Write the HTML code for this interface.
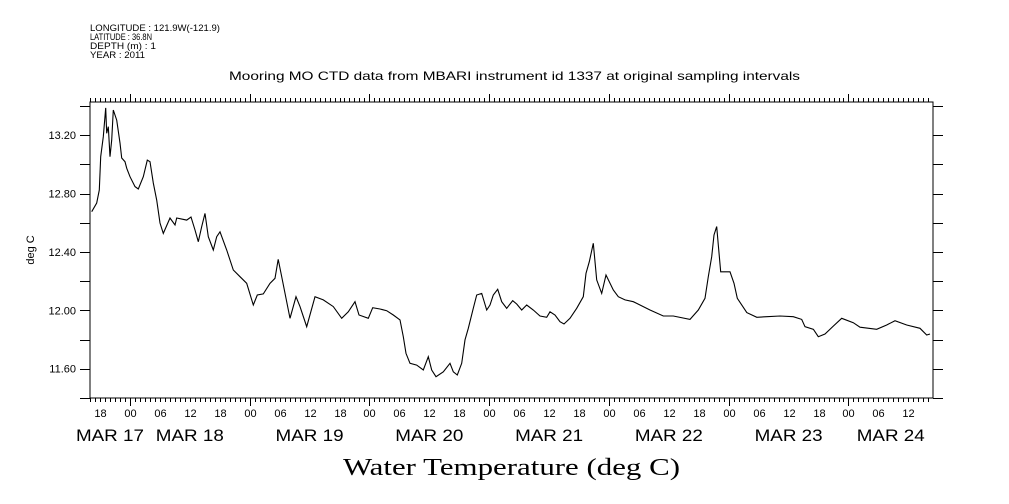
<!DOCTYPE html>
<html><head><meta charset="utf-8">
<style>
body{margin:0;background:#fff;}
svg{display:block;font-family:"Liberation Sans",sans-serif;}
</style></head>
<body>
<svg id="chart" width="1009" height="504" viewBox="0 0 1009 504" xmlns="http://www.w3.org/2000/svg">
<rect width="1009" height="504" fill="#fff"/>
<g font-size="9" fill="#000">
<text x="90" y="31" textLength="130" lengthAdjust="spacingAndGlyphs">LONGITUDE : 121.9W(-121.9)</text>
<text x="90" y="40" textLength="62" lengthAdjust="spacingAndGlyphs">LATITUDE : 36.8N</text>
<text x="90" y="49" textLength="66" lengthAdjust="spacingAndGlyphs">DEPTH (m) : 1</text>
<text x="90" y="58" textLength="55" lengthAdjust="spacingAndGlyphs">YEAR : 2011</text>
</g>
<text x="229" y="80" font-size="12" textLength="571" lengthAdjust="spacingAndGlyphs">Mooring MO CTD data from MBARI instrument id 1337 at original sampling intervals</text>
<text transform="translate(34,250) rotate(-90)" font-size="11" text-anchor="middle">deg C</text>
<text x="343" y="475" font-size="24" textLength="337" lengthAdjust="spacingAndGlyphs" font-family="'Liberation Serif',serif">Water Temperature (deg C)</text>
<g id="axes"></g>
<g id="series"></g>
</svg>
<script>
// hours since MAR 17 16:00
const hours=[0.34,1.34,1.86,2.14,2.67,3.15,3.35,3.67,4.01,4.35,4.67,5.35,6.01,6.35,7.01,7.35,8.02,9.02,9.68,10.68,11.48,12.02,12.69,13.37,14.03,14.69,16.03,17.03,17.37,19.38,20.24,21.04,21.70,22.38,23.05,23.71,24.71,25.39,26.05,27.39,28.72,30.06,31.40,32.72,33.52,34.73,36.07,37.07,37.72,38.42,40.08,41.28,42.08,43.43,45.09,46.75,48.76,50.44,51.76,53.11,53.91,55.77,56.65,58.12,59.46,60.78,62.12,62.79,63.33,64.13,65.47,66.79,67.80,68.48,69.34,70.80,72.14,72.81,73.61,74.49,75.15,75.81,76.81,77.49,78.50,79.50,80.16,80.82,81.70,82.50,83.51,84.71,85.51,86.51,87.52,88.84,90.18,91.52,92.18,93.19,94.19,94.99,96.19,97.54,98.86,99.40,100.06,100.86,101.54,102.55,103.41,104.87,105.87,107.21,108.88,110.22,112.22,114.89,116.89,120.24,121.90,123.25,123.91,124.59,125.05,125.59,125.91,126.39,127.25,128.26,129.06,129.72,131.62,133.62,135.63,138.28,140.95,142.63,143.29,144.96,145.96,147.29,148.96,150.64,152.97,154.31,157.66,159.66,161.32,163.67,166.33,167.68,168.34];
const temps=[12.675,12.735,12.824,13.052,13.189,13.386,13.212,13.258,13.052,13.166,13.372,13.303,13.146,13.043,13.018,12.973,12.915,12.847,12.831,12.915,13.029,13.018,12.872,12.755,12.598,12.527,12.632,12.584,12.632,12.618,12.639,12.550,12.470,12.573,12.664,12.504,12.413,12.504,12.538,12.413,12.276,12.230,12.185,12.036,12.105,12.112,12.185,12.219,12.349,12.230,11.945,12.093,12.025,11.888,12.093,12.071,12.025,11.945,11.990,12.059,11.968,11.945,12.018,12.009,11.997,11.968,11.934,11.819,11.705,11.637,11.625,11.591,11.682,11.591,11.545,11.579,11.637,11.579,11.557,11.637,11.797,11.877,12.014,12.105,12.116,12.002,12.036,12.105,12.144,12.059,12.014,12.066,12.043,12.002,12.036,12.002,11.961,11.952,11.990,11.968,11.922,11.906,11.945,12.014,12.093,12.253,12.333,12.459,12.208,12.116,12.242,12.139,12.093,12.071,12.059,12.036,12.002,11.961,11.961,11.938,12.002,12.082,12.230,12.367,12.516,12.573,12.447,12.264,12.264,12.264,12.185,12.082,11.984,11.952,11.956,11.961,11.956,11.938,11.888,11.870,11.819,11.838,11.892,11.945,11.915,11.884,11.870,11.899,11.929,11.899,11.877,11.831,11.838];
const yTickLabels=["11.60","12.00","12.40","12.80","13.20"];
const dayLabels=["MAR 17","MAR 18","MAR 19","MAR 20","MAR 21","MAR 22","MAR 23","MAR 24"];
const hourLabels=["00","06","12","18"];

const L=90,R=933,T=102,B=398;
const PXH=4.99;
function xs(h){return L+h*PXH;}
function ys(v){return 310.3-(v-12)*146;}
const NS="http://www.w3.org/2000/svg";
const axes=document.getElementById('axes');
function el(tag,attrs,parent){const e=document.createElementNS(NS,tag);for(const k in attrs)e.setAttribute(k,attrs[k]);parent.appendChild(e);return e;}

const frame=el('rect',{x:L,y:T,width:R-L,height:B-T,fill:'none',stroke:'#000','stroke-width':1},axes);



const totalH=(R-L)/PXH;
let d='';
for(let h=0;h<=totalH;h++){
  const hod=(16+h)%24;
  const x=Math.round(xs(h))+0.5;
  const len=hod===0?8:4;
  d+=`M${x} ${B}V${B+len}M${x} ${T}V${T-len}`;
  if(hod%6===0){
    const t=el('text',{x:x,y:417,'font-size':11,'text-anchor':'middle'},axes);
    
    
    t.textContent=hourLabels[hod/6];
  }
}
for(let v=11.4;v<=13.41;v+=0.2){
  const y=Math.round(ys(v))+0.5;
  if(y<T-1||y>B+1)continue;
  d+=`M${L} ${y}H${L-10}M${R} ${y}H${R+10}`;
}
const tk=el('path',{d:d,stroke:'#000','stroke-width':1,fill:'none'},axes);


yTickLabels.forEach(s=>{
  const t=el('text',{x:76,y:ys(parseFloat(s))+4,'font-size':11,'text-anchor':'end'},axes);
  
  
  t.textContent=s;
});
dayLabels.forEach((s,i)=>{
  const a=Math.max(L,xs(8+24*(i-1))), b=Math.min(R,xs(8+24*i));
  const c=(a+b)/2;
  const t=el('text',{x:c-34,y:441,'font-size':17,textLength:68,lengthAdjust:'spacingAndGlyphs'},axes);
  
  
  t.textContent=s;
});
const pts=hours.map((h,i)=>xs(h).toFixed(1)+','+ys(temps[i]).toFixed(1)).join(' ');
const line=el('polyline',{points:pts,fill:'none',stroke:'#000','stroke-width':1.1},document.getElementById('series'));


</script>
</body></html>
